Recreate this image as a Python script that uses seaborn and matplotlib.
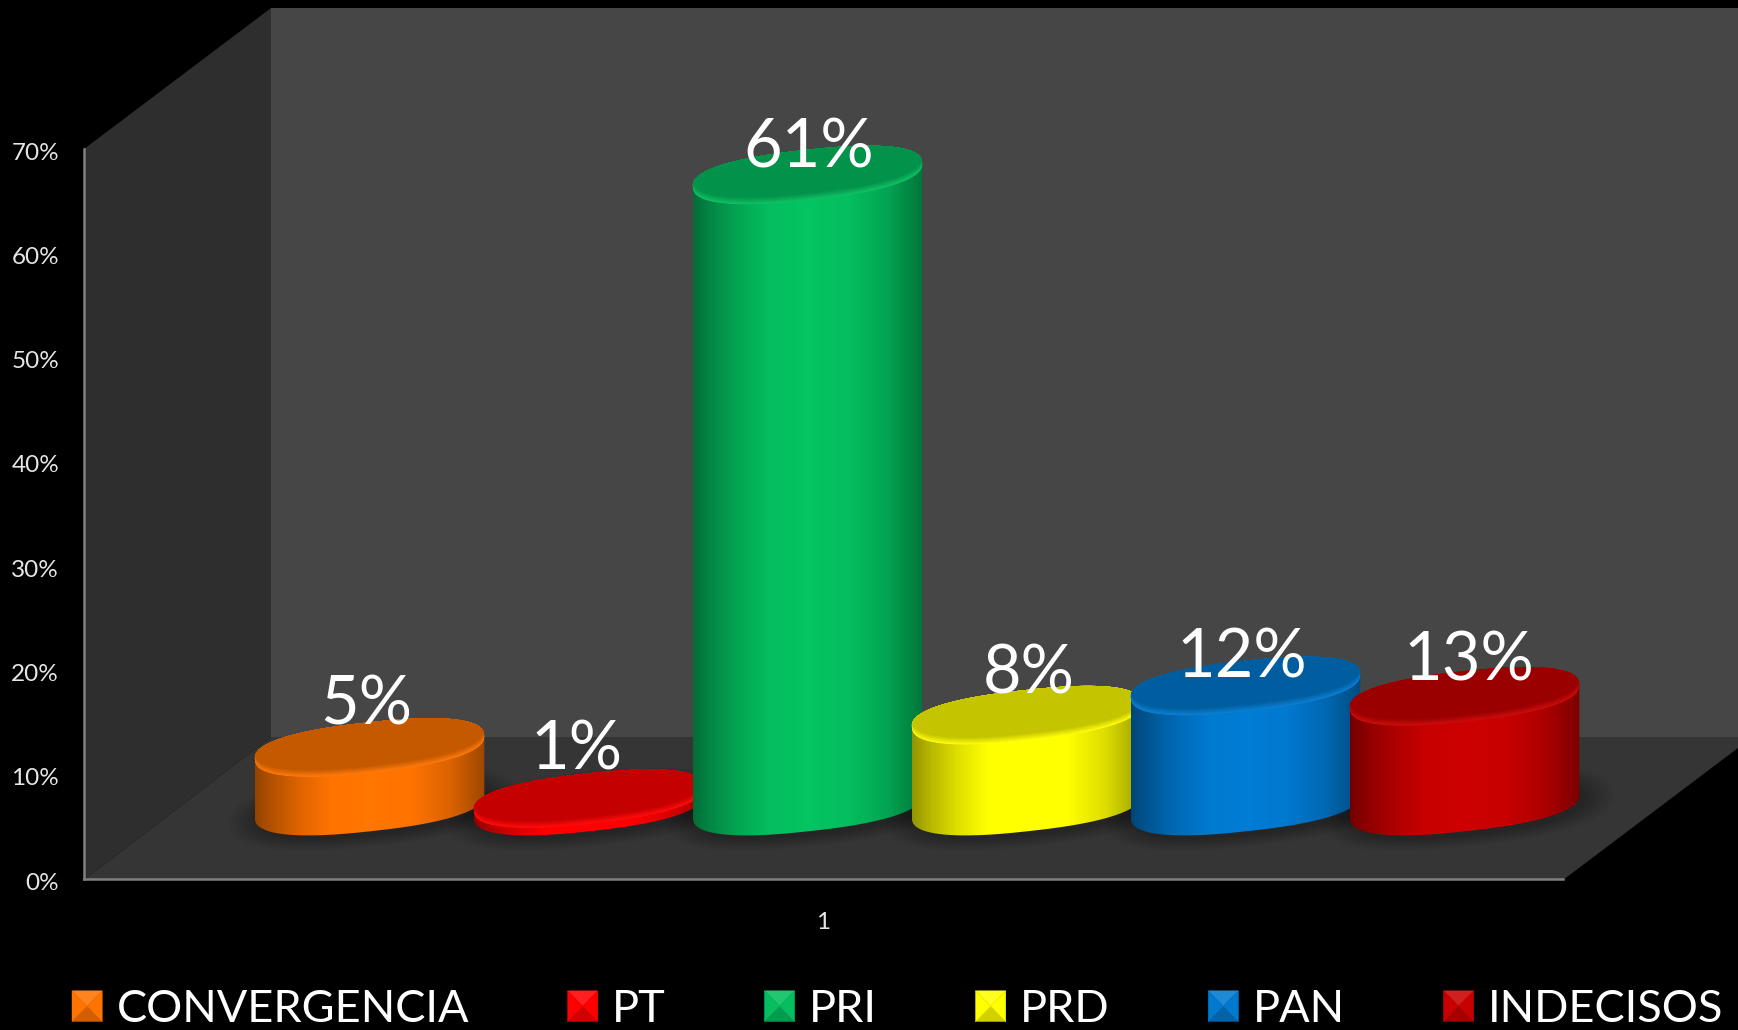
import numpy as np
import pandas as pd
import seaborn as sns
import matplotlib
matplotlib.use("Agg")
import matplotlib.pyplot as plt
from matplotlib.colors import to_rgb
from matplotlib.legend_handler import HandlerBase
from matplotlib.patches import Patch, Polygon
from matplotlib.path import Path
from matplotlib.transforms import ScaledTranslation

# data (bar heights differ a little from the printed labels)
parties = ["CONVERGENCIA", "PT", "PRI", "PRD", "PAN", "INDECISOS"]
heights = [5.6, 0.7, 60.5, 8.7, 11.5, 10.5]
value_labels = ["5%", "1%", "61%", "8%", "12%", "13%"]
colors = ["#ff7300", "#ff0000", "#04be5f", "#ffff00", "#0079cf", "#c80000"]
y_ticks = [0, 10, 20, 30, 40, 50, 60, 70]
category = ["1"]

# layout in pixels of the 1738x1030 picture
W, H = 1738, 1030
FRONT = (84, 1563, 879, 149)  # left, right, bottom, top of the front plane
DEPTH = (93.5, 73)            # how far the bars sit behind the front plane
BAR_W = 229.4
A, B, TILT = 115.4, 25.2, np.radians(6.27)
ROUND = 0.82  # below 1 squares the ellipse off a little, like the office 3d cylinders
# label offset from the centre of each bar top
label_nudge = [(-3, -42), (-12, -48), (1, -27), (2, -41), (-4, -28), (4, -35)]


def darker(col, f):
    return tuple(c * f for c in to_rgb(col))


def mix(c1, c2, f):
    return tuple(a + (b - a) * f for a, b in zip(c1, c2))


def ell_xy(cx, cy, a, b, t):
    c = np.sign(np.cos(t)) * np.abs(np.cos(t)) ** ROUND
    s = np.sign(np.sin(t)) * np.abs(np.sin(t)) ** ROUND
    x = a * c * np.cos(TILT) + b * s * np.sin(TILT)
    y = -a * c * np.sin(TILT) + b * s * np.cos(TILT)
    return np.column_stack([cx + x, cy + y])


def to_px(ax, x, y):
    dx, dy = ax.transData.transform((x, y))
    return dx, H - dy


class BevelHandler(HandlerBase):
    # legend key: small square cut into four lit triangles
    def create_artists(self, legend, orig, xd, yd, width, height, fontsize, trans):
        col = orig.get_facecolor()
        l, r, b, t = -xd, -xd + width, -yd, -yd + height
        mid = (l + width / 2, b + height / 2)
        tones = [(mix(to_rgb(col), (1, 1, 1), 0.12), [(l, t), (r, t), mid]),
                 (darker(col, 0.82), [(l, b), (r, b), mid]),
                 (to_rgb(col), [(l, b), (l, t), mid]),
                 (to_rgb(col), [(r, b), (r, t), mid])]
        out = []
        for tone, pts in tones:
            p = Polygon(pts, closed=True, facecolor=tone, edgecolor=tone, lw=0.3, transform=trans)
            out.append(p)
        return out


sns.set_theme(style="dark", rc={"figure.facecolor": "black", "axes.facecolor": "none"})
plt.rcParams["font.family"] = ["Lato", "DejaVu Sans"]

fig = plt.figure(figsize=(W / 100, H / 100), dpi=100)

# box walls and floor, behind everything
back = fig.add_axes([0, 0, 1, 1], zorder=0)
back.set_xlim(0, W)
back.set_ylim(H, 0)
back.axis("off")
back.add_patch(Polygon([(271, 8), (W, 8), (W, 737), (271, 737)], color="#464646", lw=0))
back.add_patch(Polygon([(84, 149), (271, 8), (271, 737), (84, 880)], color="#2e2e2e", lw=0))
back.add_patch(Polygon([(84, 880), (271, 737), (W, 737), (W, 748), (1563, 880)], color="#353535", lw=0))

# front plane with the value axis
l, r, b, t = FRONT
ax = fig.add_axes([l / W, (H - b) / H, (r - l) / W, (b - t) / H], zorder=1)
ax.set_xlim(-0.5, 0.5)
ax.set_ylim(0, 70)
ax.set_xticks([0], category)
ax.set_yticks(y_ticks, [f"{v}%" for v in y_ticks])
ax.tick_params(axis="both", length=0, colors="#e6e6e6", labelsize=17.5)
ax.tick_params(axis="x", pad=24)
ax.tick_params(axis="y", pad=18)
ax.grid(False)
for lab in ax.get_yticklabels():
    lab.set_transform(lab.get_transform() + ScaledTranslation(0, -1.5 / 72, fig.dpi_scale_trans))
for side in ["top", "right"]:
    ax.spines[side].set_visible(False)
for side in ["left", "bottom"]:
    ax.spines[side].set_color("#808080")
    ax.spines[side].set_linewidth(1.8)

# the bars themselves, on a plane pushed back into the box
bars_ax = fig.add_axes([(l + DEPTH[0]) / W, (H - b + DEPTH[1]) / H, (r - l) / W, (b - t) / H], zorder=2)
df = pd.DataFrame({"cat": category * len(parties), "party": parties, "value": heights})
sns.barplot(data=df, x="cat", y="value", hue="party", hue_order=parties, palette=colors,
            width=6 * 219 / (r - l), gap=0, saturation=1, legend=False, ax=bars_ax)
bars_ax.set_xlim(-0.5, 0.5)
bars_ax.set_ylim(0, 70)
bars_ax.axis("off")

# overlay for the round parts, same pixel space as the picture
px = fig.add_axes([0, 0, 1, 1], zorder=3)
px.set_autoscale_on(False)
px.set_xlim(0, W)
px.set_ylim(H, 0)
px.axis("off")

bars = sorted(bars_ax.patches, key=lambda p: p.get_x())
tt = np.linspace(0, 2 * np.pi, 361)[:-1]
xs_shade = [0.0, 0.08, 0.2, 0.33, 0.5, 0.68, 0.85, 1.0]
fs_shade = [0.58, 0.72, 0.88, 1.0, 1.03, 1.0, 0.86, 0.62]

# soft shadow on the floor first
for bar in bars:
    cx, base = to_px(bars_ax, bar.get_x() + bar.get_width() / 2, 0)
    for i in range(8):
        grow = 30 - i * 4
        px.add_patch(Polygon(ell_xy(cx + 4, base + 3, A + grow, B + grow * 0.4, tt),
                             facecolor="black", alpha=0.035, lw=0, zorder=1))

for i, bar in enumerate(bars):
    col = colors[i]
    cx, base = to_px(bars_ax, bar.get_x() + bar.get_width() / 2, 0)
    _, top = to_px(bars_ax, bar.get_x(), bar.get_height())
    z = 5 + i

    # cylinder outline: lower arc of the base joined to upper arc of the top
    base_pts = ell_xy(cx, base, A, B, tt)
    top_pts = ell_xy(cx, top, A, B, tt)
    ir = int(np.argmax(base_pts[:, 0]))
    il = int(np.argmin(base_pts[:, 0]))
    low = np.roll(base_pts, -ir, axis=0)[:(il - ir) % len(tt) + 1]
    up = np.roll(top_pts, -il, axis=0)[:(ir - il) % len(tt) + 1]
    body = Path(np.vstack([low, up, low[:1]]), closed=True)
    bar.set_clip_path(body, transform=px.transData)

    xx = np.linspace(0, 1, 200)
    ff = np.interp(xx, xs_shade, fs_shade)
    rgb = np.clip(np.outer(ff, to_rgb(col)), 0, 1)[None, :, :]
    im = px.imshow(rgb, extent=(cx - BAR_W / 2, cx + BAR_W / 2, base + 35, top - 35),
                   aspect="auto", interpolation="bilinear", zorder=z)
    im.set_clip_path(body, transform=px.transData)

    # top face: cap slid back over a lit rim, so the light only shows at the front
    rim = mix(to_rgb(col), (1, 1, 1), 0.05)
    cap = darker(col, 0.77)
    outer = Path(np.vstack([top_pts, top_pts[:1]]), closed=True)
    for f in np.linspace(0, 1, 10):
        pts = ell_xy(cx, top - 7 * f, A, B, tt)
        tone = mix(rim, cap, f)
        step = Polygon(pts, facecolor=tone, lw=0, zorder=z + 0.1 + f / 10)
        px.add_patch(step)
        step.set_clip_path(outer, transform=px.transData)

    dx, dy = label_nudge[i]
    px.text(cx + dx, top + dy, value_labels[i], color="white", fontsize=48, ha="center", va="center", zorder=30)

px.set_xlim(0, W)
px.set_ylim(H, 0)

handles = [Patch(facecolor=c, label=p) for c, p in zip(colors, parties)]
leg = fig.legend(handles=handles, loc="lower left", bbox_to_anchor=(72 / W, 0), bbox_transform=fig.transFigure,
                 ncol=6, frameon=False, fontsize=32.5, labelcolor="white", borderpad=0, borderaxespad=0,
                 handlelength=0.67, handleheight=0.67, handletextpad=0.32, columnspacing=2.18,
                 handler_map={Patch: BevelHandler()})

fig.savefig("out.png", dpi=100, facecolor="black")
